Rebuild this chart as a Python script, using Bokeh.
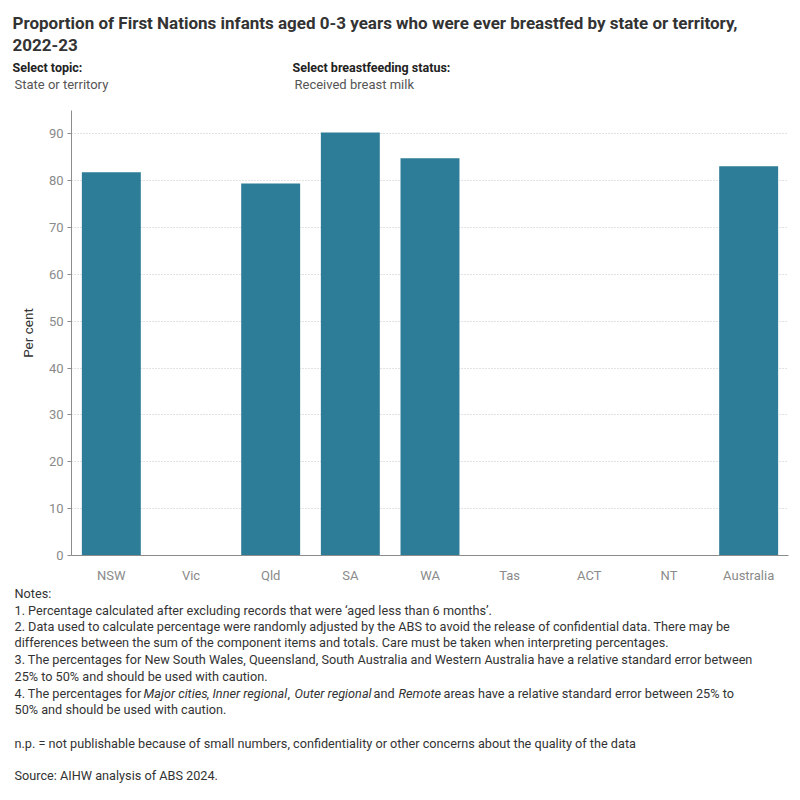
from bokeh.plotting import figure
from bokeh.models import Label, Range1d, FactorRange, FixedTicker
from bokeh.layouts import column
from bokeh.embed import file_html
from bokeh.resources import INLINE

# ---- data ----
categories = ["NSW", "Vic", "Qld", "SA", "WA", "Tas", "ACT", "NT", "Australia"]
values = [81.8, None, 79.4, 90.3, 84.8, None, None, None, 83.1]
y_ticks = [0, 10, 20, 30, 40, 50, 60, 70, 80, 90]

title_lines = [
    "Proportion of First Nations infants aged 0-3 years who were ever breastfed by state or territory,",
    "2022-23",
]
notes = [
    "Notes:",
    "1. Percentage calculated after excluding records that were \u2018aged less than 6 months\u2019.",
    "2. Data used to calculate percentage were randomly adjusted by the ABS to avoid the release of confidential data. There may be",
    "differences between the sum of the component items and totals. Care must be taken when interpreting percentages.",
    "3. The percentages for New South Wales, Queensland, South Australia and Western Australia have a relative standard error between",
    "25% to 50% and should be used with caution.",
]
note4_segments = [
    ("4. The percentages for", False),
    ("Major cities", True),
    (",", False),
    ("Inner regional", True),
    (",", False),
    ("Outer regional", True),
    ("and", False),
    ("Remote", True),
    ("areas have a relative standard error between 25% to", False),
]
note4_cont = "50% and should be used with caution."
np_note = "n.p. = not publishable because of small numbers, confidentiality or other concerns about the quality of the data"
source = "Source: AIHW analysis of ABS 2024."

bar_cats = [c for c, v in zip(categories, values) if v is not None]
bar_vals = [v for v in values if v is not None]

FONT = "Roboto"
NOTE_SIZE = "12.7px"
W = 800
TOP_H = 100      # header panel height
CHART_H = 485    # chart panel: canvas y 100..585
BOT_H = 800 - TOP_H - CHART_H


def blank_panel(h, y0):
    f = figure(width=W, height=h, x_range=Range1d(0, W), y_range=Range1d(y0 + h, y0),
               output_backend="svg", toolbar_location=None,
               x_axis_location=None, y_axis_location=None,
               min_border=0, min_border_left=0, min_border_right=0,
               min_border_top=0, min_border_bottom=0)
    f.frame_align = False
    f.grid.visible = False
    f.outline_line_color = None
    f.background_fill_color = "white"
    f.border_fill_color = "white"
    return f


def add_text(f, txt, cx, cy, size=NOTE_SIZE, style="normal", color="#333333"):
    f.add_layout(Label(
        x=cx, y=cy, text=txt, text_font=FONT, text_font_size=size,
        text_font_style=style, text_color=color,
        text_baseline="middle", text_align="left",
    ))


# ---- header ----
top = blank_panel(TOP_H, 0)
add_text(top, title_lines[0], 12, 22, "17px", "bold", "#333333")
add_text(top, title_lines[1], 12, 44, "17px", "bold", "#333333")
add_text(top, "Select topic:", 12, 67, "12.5px", "bold", "#222222")
add_text(top, "State or territory", 14, 84, "13px", "normal", "#555555")
add_text(top, "Select breastfeeding status:", 292, 67, "12.5px", "bold", "#222222")
add_text(top, "Received breast milk", 294, 84, "13px", "normal", "#555555")

# ---- chart ----
p = figure(
    x_range=FactorRange(factors=categories, range_padding=0),
    y_range=Range1d(0, 95),
    width=W, height=CHART_H,
    output_backend="svg", toolbar_location=None,
    min_border_left=71, min_border_right=12,
    min_border_top=10, min_border_bottom=30,
)
p.frame_align = False
p.outline_line_color = None
p.background_fill_color = "white"
p.border_fill_color = "white"

p.vbar(x=bar_cats, top=bar_vals, width=0.74, color="#2d7d98", line_color=None)

p.xaxis.axis_line_color = "#8c8c8c"
p.xaxis.major_tick_line_color = None
p.xaxis.minor_tick_line_color = None
p.xaxis.major_label_text_font = FONT
p.xaxis.major_label_text_font_size = "13px"
p.xaxis.major_label_text_color = "#8a8a8a"
p.xaxis.major_label_standoff = 6

p.yaxis.ticker = FixedTicker(ticks=y_ticks)
p.yaxis.axis_line_color = "#8c8c8c"
p.yaxis.major_tick_line_color = "#8c8c8c"
p.yaxis.major_tick_out = 4
p.yaxis.major_tick_in = 0
p.yaxis.minor_tick_line_color = None
p.yaxis.major_label_text_font = FONT
p.yaxis.major_label_text_font_size = "13px"
p.yaxis.major_label_text_color = "#8a8a8a"
p.yaxis.major_label_standoff = 4
p.yaxis.axis_label = "Per cent"
p.yaxis.axis_label_text_font = FONT
p.yaxis.axis_label_text_font_size = "13.5px"
p.yaxis.axis_label_text_font_style = "normal"
p.yaxis.axis_label_text_color = "#333333"
p.yaxis.axis_label_standoff = 10

p.xgrid.grid_line_color = None
p.ygrid.grid_line_color = "#c4c4c4"
p.ygrid.grid_line_dash = "1 2"
p.ygrid.grid_line_width = 1

# ---- notes ----
Y0 = TOP_H + CHART_H
bot = blank_panel(BOT_H, Y0)
note_ys = [593, 610, 626, 642, 659, 676]
for t, yy in zip(notes, note_ys):
    add_text(bot, t, 14, yy)
seg_pos = [14, 143, 206, 212, 287, 294, 373, 398, 443]
for (t, it), xx in zip(note4_segments, seg_pos):
    add_text(bot, t, xx, 692.5, NOTE_SIZE, "italic" if it else "normal")
add_text(bot, note4_cont, 14, 709)
add_text(bot, np_note, 14, 742.5)
add_text(bot, source, 14, 774.5)

layout = column(top, p, bot, spacing=0)
open("out.html", "w").write(file_html(layout, INLINE))
